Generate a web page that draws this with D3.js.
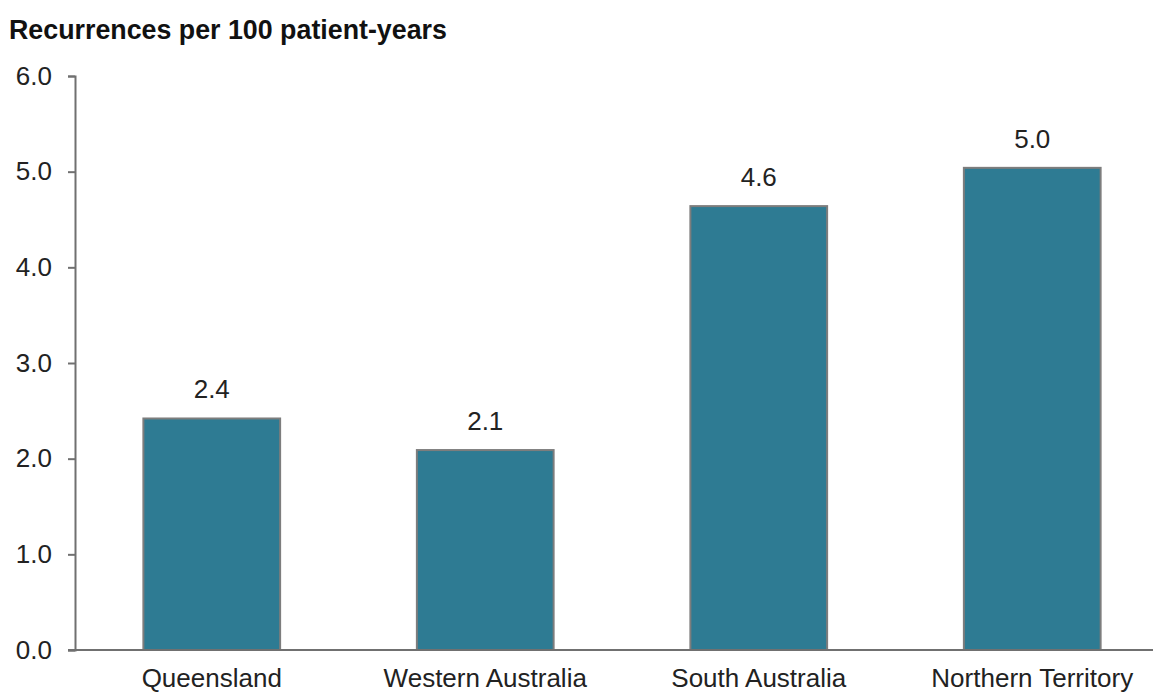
<!DOCTYPE html>
<html>
<head>
<meta charset="utf-8">
<script src="https://cdn.jsdelivr.net/npm/d3@7"></script>
<style>
  html, body { margin: 0; padding: 0; background: #fff; }
  svg { display: block; font-family: "Liberation Sans", Arial, sans-serif; }
</style>
</head>
<body>
<svg id="chart" width="1153" height="693"></svg>
<script>
// Recurrence rates by jurisdiction
const categories = ["Queensland", "Western Australia", "South Australia", "Northern Territory"];
const values = [2.42, 2.09, 4.64, 5.04];
const yTicks = [0, 1, 2, 3, 4, 5, 6];
const title = "Recurrences per 100 patient-years";

const svg = d3.select("#chart");
const W = 1153, H = 693;
const y0 = 650, yTop = 76, axisX = 75;
const FONT = "Liberation Sans, Arial, sans-serif";

const y = d3.scaleLinear().domain([0, 6]).range([y0, yTop]);
const x = d3.scaleBand()
  .domain(categories)
  .range([axisX, 1169])
  .paddingInner(0.5)
  .paddingOuter(0.25);

const fmt = d3.format(".1f");

// title
svg.append("text")
  .attr("x", 9).attr("y", 39)
  .attr("font-size", 26.8).attr("font-weight", "bold")
  .attr("fill", "#111")
  .text(title);

// y axis
const yAxis = svg.append("g")
  .attr("transform", `translate(${axisX},0)`)
  .call(d3.axisLeft(y).tickValues(yTicks).tickFormat(fmt).tickSizeOuter(7).tickSize(7).tickPadding(16));
yAxis.select(".domain").attr("stroke", "#707070").attr("stroke-width", 2);
yAxis.selectAll(".tick line").attr("stroke", "#707070").attr("stroke-width", 2);
yAxis.selectAll(".tick text")
  .attr("font-size", 26).attr("fill", "#222")
  .attr("font-family", FONT);

// bars
svg.append("g").selectAll("rect")
  .data(values)
  .join("rect")
  .attr("x", (d, i) => x(categories[i]))
  .attr("width", x.bandwidth())
  .attr("y", d => y(d))
  .attr("height", d => y0 - y(d))
  .attr("fill", "#2e7b93")
  .attr("stroke", "#7d7d7d")
  .attr("stroke-width", 2);

// value labels
svg.append("g").selectAll("text")
  .data(values)
  .join("text")
  .attr("x", (d, i) => x(categories[i]) + x.bandwidth() / 2)
  .attr("y", d => y(d) - 20)
  .attr("text-anchor", "middle")
  .attr("font-size", 26)
  .attr("fill", "#222")
  .text(d => fmt(d));

// x axis
const xAxis = svg.append("g")
  .attr("transform", `translate(0,${y0})`)
  .call(d3.axisBottom(x).tickSize(0).tickPadding(19));
xAxis.select(".domain").attr("d", `M${axisX - 7},0H${W}`)
  .attr("stroke", "#707070").attr("stroke-width", 2);
xAxis.selectAll(".tick text")
  .attr("font-size", 26).attr("fill", "#222")
  .attr("font-family", FONT);
</script>
</body>
</html>
